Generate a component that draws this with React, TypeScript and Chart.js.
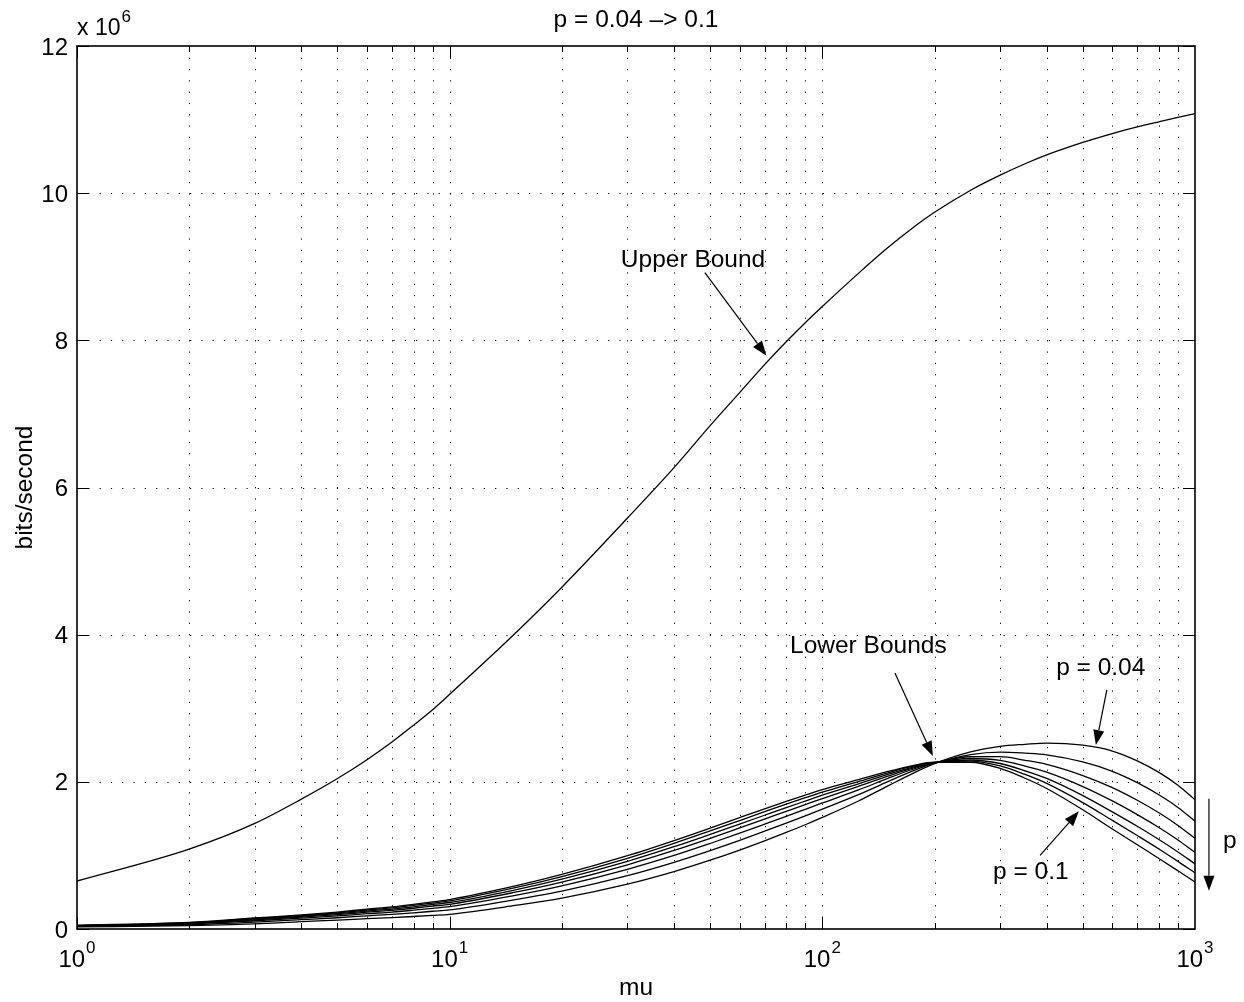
import { useEffect, useRef } from 'react';
import { Chart, registerables } from 'chart.js';

Chart.register(...registerables);

// ---- data (y values in units of 10^6 bits/second) ----
const MU = [1, 2, 3, 4, 5, 6, 7, 8, 9, 10, 15, 20, 30, 40, 50, 60, 70, 80, 90, 100, 125, 150, 175, 200, 250, 300, 350, 400, 500, 600, 700, 800, 900, 1000];

const UPPER_BOUND = [0.652, 1.086, 1.435, 1.765, 2.045, 2.30, 2.54, 2.77, 2.98, 3.19, 4.02, 4.645, 5.585, 6.27, 6.84, 7.29, 7.67, 7.98, 8.24, 8.46, 8.91, 9.26, 9.53, 9.74, 10.04, 10.245, 10.40, 10.52, 10.69, 10.81, 10.90, 10.97, 11.03, 11.08];

const LOWER_P004 = [0.03, 0.045, 0.07, 0.10, 0.12, 0.14, 0.155, 0.17, 0.185, 0.20, 0.32, 0.42, 0.61, 0.78, 0.935, 1.073, 1.198, 1.312, 1.417, 1.516, 1.739, 1.945, 2.116, 2.248, 2.408, 2.483, 2.51, 2.527, 2.498, 2.419, 2.285, 2.128, 1.954, 1.756];
const LOWER_P005 = [0.036, 0.059, 0.094, 0.127, 0.153, 0.179, 0.199, 0.22, 0.241, 0.26, 0.40, 0.516, 0.726, 0.907, 1.066, 1.205, 1.329, 1.439, 1.538, 1.629, 1.826, 2.004, 2.148, 2.253, 2.371, 2.405, 2.39, 2.367, 2.27, 2.143, 1.989, 1.824, 1.652, 1.466];
const LOWER_P006 = [0.04, 0.068, 0.112, 0.147, 0.177, 0.208, 0.23, 0.256, 0.281, 0.304, 0.458, 0.587, 0.811, 0.999, 1.162, 1.302, 1.424, 1.531, 1.627, 1.713, 1.89, 2.047, 2.171, 2.257, 2.341, 2.342, 2.293, 2.237, 2.085, 1.921, 1.749, 1.579, 1.407, 1.231];
const LOWER_P007 = [0.044, 0.076, 0.124, 0.161, 0.195, 0.228, 0.254, 0.282, 0.311, 0.336, 0.50, 0.638, 0.873, 1.067, 1.232, 1.373, 1.494, 1.599, 1.691, 1.773, 1.937, 2.078, 2.187, 2.26, 2.317, 2.291, 2.215, 2.132, 1.936, 1.741, 1.555, 1.38, 1.21, 1.041];
const LOWER_P008 = [0.046, 0.081, 0.134, 0.172, 0.208, 0.244, 0.271, 0.302, 0.333, 0.36, 0.532, 0.677, 0.919, 1.118, 1.285, 1.426, 1.546, 1.65, 1.739, 1.818, 1.972, 2.102, 2.20, 2.262, 2.297, 2.249, 2.15, 2.046, 1.813, 1.592, 1.396, 1.216, 1.047, 0.885];
const LOWER_P009 = [0.048, 0.086, 0.143, 0.182, 0.22, 0.258, 0.287, 0.32, 0.353, 0.382, 0.561, 0.712, 0.961, 1.164, 1.333, 1.474, 1.594, 1.696, 1.784, 1.86, 2.004, 2.123, 2.212, 2.264, 2.282, 2.216, 2.10, 1.978, 1.717, 1.476, 1.27, 1.088, 0.919, 0.762];
const LOWER_P010 = [0.05, 0.09, 0.15, 0.19, 0.23, 0.27, 0.30, 0.335, 0.37, 0.40, 0.585, 0.741, 0.996, 1.202, 1.372, 1.514, 1.633, 1.734, 1.82, 1.894, 2.03, 2.141, 2.221, 2.266, 2.266, 2.183, 2.049, 1.91, 1.62, 1.359, 1.145, 0.959, 0.791, 0.639];

const LOWER_SERIES = [LOWER_P004, LOWER_P005, LOWER_P006, LOWER_P007, LOWER_P008, LOWER_P009, LOWER_P010];
const LOWER_LABELS = ['p = 0.04', 'p = 0.05', 'p = 0.06', 'p = 0.07', 'p = 0.08', 'p = 0.09', 'p = 0.1'];

const Y_TICKS = [0, 2, 4, 6, 8, 10, 12];
const X_MAJOR = [1, 10, 100, 1000];
const X_EXPONENTS = ['0', '1', '2', '3'];

const TITLE = 'p = 0.04 \u2013> 0.1';
const X_LABEL = 'mu';
const Y_LABEL = 'bits/second';
const Y_MULTIPLIER = ['x 10', '6'];

// annotations in data coordinates (mu, 10^6 bits/s)
const TEXT_NOTES = [
  { text: 'Upper Bound', x: 28.8, y: 9.0 },
  { text: 'Lower Bounds', x: 81.9, y: 3.75 },
  { text: 'p = 0.04', x: 424, y: 3.45 },
  { text: 'p = 0.1', x: 287, y: 0.68 },
  { text: 'p', x: 1189, y: 1.10 },
];
const ARROWS = [
  { x0: 48.4, y0: 8.92, x1: 70.8, y1: 7.79 },
  { x0: 156.6, y0: 3.48, x1: 198, y1: 2.35 },
  { x0: 580, y0: 3.25, x1: 542, y1: 2.50 },
  { x0: 384, y0: 1.0, x1: 488, y1: 1.60 },
  { x0: 1090, y0: 1.77, x1: 1090, y1: 0.52 },
];

const FONT = '"Liberation Sans", Arial, Helvetica, sans-serif';

const matlabPlugin = {
  id: 'matlabAxes',
  beforeDatasetsDraw(chart: any) {
    const { ctx, chartArea, scales } = chart;
    const { left, right, top, bottom } = chartArea;
    const xs = scales.x;
    const ys = scales.y;
    ctx.save();
    ctx.strokeStyle = '#000';
    ctx.lineWidth = 1;
    ctx.setLineDash([1.2, 10.1]);
    for (const d of [1, 10, 100]) {
      for (let m = 1; m <= 9; m++) {
        const v = d * m;
        if (v <= 1 || v >= 1000) continue;
        const px = Math.round(xs.getPixelForValue(v)) + 0.5;
        ctx.beginPath();
        ctx.moveTo(px, bottom);
        ctx.lineTo(px, top);
        ctx.stroke();
      }
    }
    for (const t of Y_TICKS) {
      if (t <= 0 || t >= 12) continue;
      const py = Math.round(ys.getPixelForValue(t)) + 0.5;
      ctx.beginPath();
      ctx.moveTo(left, py);
      ctx.lineTo(right, py);
      ctx.stroke();
    }
    ctx.restore();
  },
  afterDatasetsDraw(chart: any) {
    const { ctx, chartArea, scales } = chart;
    const { left, right, top, bottom } = chartArea;
    const xs = scales.x;
    const ys = scales.y;
    ctx.save();
    ctx.setLineDash([]);
    ctx.strokeStyle = '#000';
    ctx.fillStyle = '#000';

    // ticks
    ctx.lineWidth = 1;
    for (const d of [1, 10, 100]) {
      for (let m = 1; m <= 9; m++) {
        const v = d * m;
        const major = m === 1;
        const len = major ? 12 : 6;
        const px = Math.round(xs.getPixelForValue(v)) + 0.5;
        ctx.beginPath();
        ctx.moveTo(px, bottom);
        ctx.lineTo(px, bottom - len);
        ctx.moveTo(px, top);
        ctx.lineTo(px, top + len);
        ctx.stroke();
      }
    }
    for (const t of Y_TICKS) {
      const py = Math.round(ys.getPixelForValue(t)) + 0.5;
      ctx.beginPath();
      ctx.moveTo(left, py);
      ctx.lineTo(left + 12, py);
      ctx.moveTo(right, py);
      ctx.lineTo(right - 12, py);
      ctx.stroke();
    }

    // box
    ctx.lineWidth = 1.6;
    ctx.strokeRect(left, top, right - left, bottom - top);

    // y tick labels
    ctx.font = `24px ${FONT}`;
    ctx.textAlign = 'right';
    ctx.textBaseline = 'alphabetic';
    for (const t of Y_TICKS) {
      const py = ys.getPixelForValue(t);
      ctx.fillText(String(t), left - 9, py + 8.5);
    }

    // x tick labels with superscript
    X_MAJOR.forEach((v, i) => {
      const px = xs.getPixelForValue(v);
      ctx.font = `24px ${FONT}`;
      const wb = ctx.measureText('10').width;
      ctx.font = `17px ${FONT}`;
      const we = ctx.measureText(X_EXPONENTS[i]).width;
      const total = wb + 1 + we;
      const x0 = px - total / 2;
      ctx.textAlign = 'left';
      ctx.font = `24px ${FONT}`;
      ctx.fillText('10', x0, bottom + 38);
      ctx.font = `17px ${FONT}`;
      ctx.fillText(X_EXPONENTS[i], x0 + wb + 1, bottom + 24);
    });

    // multiplier
    ctx.textAlign = 'left';
    ctx.font = `23px ${FONT}`;
    ctx.fillText(Y_MULTIPLIER[0], left, top - 11);
    const wm = ctx.measureText(Y_MULTIPLIER[0]).width;
    ctx.font = `17px ${FONT}`;
    ctx.fillText(Y_MULTIPLIER[1], left + wm + 1, top - 24);

    // title
    ctx.font = `24.5px ${FONT}`;
    ctx.textAlign = 'center';
    ctx.fillText(TITLE, (left + right) / 2, 27);

    // x label
    ctx.fillText(X_LABEL, (left + right) / 2, bottom + 66);

    // y label
    ctx.save();
    ctx.translate(32, (top + bottom) / 2);
    ctx.rotate(-Math.PI / 2);
    ctx.textAlign = 'center';
    ctx.fillText(Y_LABEL, 0, 0);
    ctx.restore();

    // annotations
    ctx.font = `24.5px ${FONT}`;
    ctx.textAlign = 'left';
    for (const n of TEXT_NOTES) {
      ctx.fillText(n.text, xs.getPixelForValue(n.x), ys.getPixelForValue(n.y));
    }
    ctx.lineWidth = 1.2;
    for (const a of ARROWS) {
      const x0 = xs.getPixelForValue(a.x0);
      const y0 = ys.getPixelForValue(a.y0);
      const x1 = xs.getPixelForValue(a.x1);
      const y1 = ys.getPixelForValue(a.y1);
      const ang = Math.atan2(y1 - y0, x1 - x0);
      const hl = 15;
      const hw = 5.5;
      const bx = x1 - hl * Math.cos(ang);
      const by = y1 - hl * Math.sin(ang);
      ctx.beginPath();
      ctx.moveTo(x0, y0);
      ctx.lineTo(bx, by);
      ctx.stroke();
      ctx.beginPath();
      ctx.moveTo(x1, y1);
      ctx.lineTo(bx + hw * Math.sin(ang), by - hw * Math.cos(ang));
      ctx.lineTo(bx - hw * Math.sin(ang), by + hw * Math.cos(ang));
      ctx.closePath();
      ctx.fill();
    }
    ctx.restore();
  },
};

export default function App() {
  const ref = useRef<HTMLCanvasElement>(null);
  useEffect(() => {
    document.body.style.margin = '0';
    const canvas = ref.current;
    if (!canvas) return;
    const toPoints = (ys: number[]) => MU.map((m, i) => ({ x: m, y: ys[i] }));
    const datasets: any[] = [
      {
        label: 'Upper Bound',
        data: toPoints(UPPER_BOUND),
        borderColor: '#000',
        borderWidth: 1.3,
        pointRadius: 0,
        cubicInterpolationMode: 'monotone',
      },
      ...LOWER_SERIES.map((s, i) => ({
        label: LOWER_LABELS[i],
        data: toPoints(s),
        borderColor: '#000',
        borderWidth: 1.3,
        pointRadius: 0,
        cubicInterpolationMode: 'monotone',
      })),
    ];
    const chart = new Chart(canvas, {
      type: 'line',
      data: { datasets },
      options: {
        responsive: false,
        animation: false,
        devicePixelRatio: 1,
        events: [],
        layout: { padding: { left: 77, right: 49, top: 46, bottom: 73 } },
        plugins: {
          legend: { display: false },
          title: { display: false },
          tooltip: { enabled: false },
        },
        scales: {
          x: { type: 'logarithmic', min: 1, max: 1000, display: false },
          y: { type: 'linear', min: 0, max: 12, display: false },
        },
      },
      plugins: [matlabPlugin],
    } as any);
    return () => chart.destroy();
  }, []);
  return (
    <canvas
      ref={ref}
      width={1244}
      height={1002}
      style={{ display: 'block', width: '1244px', height: '1002px' }}
    />
  );
}
